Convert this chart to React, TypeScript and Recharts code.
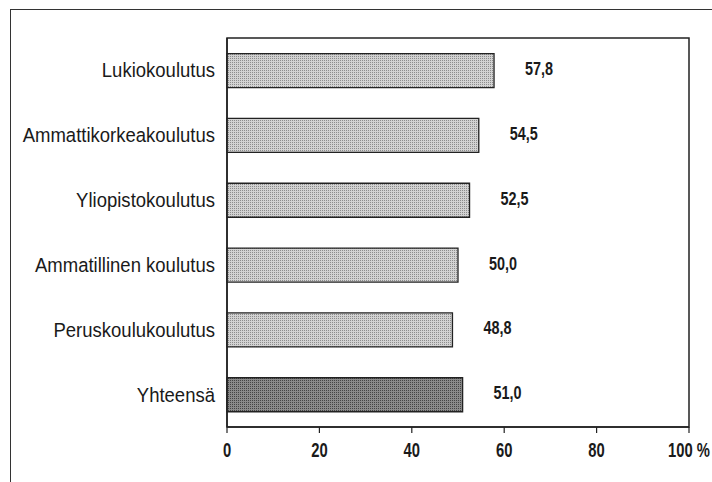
import React from "react";
import { BarChart, Bar, XAxis, YAxis, Cell, LabelList, ReferenceArea } from "recharts";

const categories = [
  "Lukiokoulutus",
  "Ammattikorkeakoulutus",
  "Yliopistokoulutus",
  "Ammatillinen koulutus",
  "Peruskoulukoulutus",
  "Yhteensä",
];
const values = [57.8, 54.5, 52.5, 50.0, 48.8, 51.0];
const xTicks = [0, 20, 40, 60, 80, 100];

const data = categories.map((name, i) => ({ name, value: values[i] }));

const FONT = "'Liberation Sans', Arial, sans-serif";

const YTick = (props: any) => {
  const { x, y, payload } = props;
  return (
    <text
      transform={`translate(${x},${y}) scale(0.95,1)`}
      textAnchor="end"
      dy="0.36em"
      fill="#1a1a1a"
      fontSize={19.5}
      fontFamily={FONT}
    >
      {payload.value}
    </text>
  );
};

const XTick = (props: any) => {
  const { x, y, payload } = props;
  const v = payload.value;
  return (
    <text
      transform={`translate(${x},${y}) scale(0.74,1)`}
      textAnchor="middle"
      dy="0.71em"
      fill="#1a1a1a"
      fontSize={20}
      fontWeight={700}
      fontFamily={FONT}
    >
      {v === 100 ? "100 %" : String(v)}
    </text>
  );
};

const ValueLabel = (props: any) => {
  const { x, y, width, height, value } = props;
  const lx = Number(x) + Number(width) + 31;
  const ly = Number(y) + Number(height) / 2 - 2;
  return (
    <text
      transform={`translate(${lx},${ly}) scale(0.8,1)`}
      textAnchor="start"
      dy="0.36em"
      fill="#1a1a1a"
      fontSize={18}
      fontWeight={700}
      fontFamily={FONT}
    >
      {Number(value).toFixed(1).replace(".", ",")}
    </text>
  );
};

export default function App() {
  return (
    <div style={{ position: "fixed", left: 0, top: 0, width: 712, height: 482, background: "#fff", overflow: "hidden" }}>
      <svg width="0" height="0" style={{ position: "absolute" }}>
        <defs>
          <pattern id="dotsLight" width="2" height="2" patternUnits="userSpaceOnUse">
            <rect width="2" height="2" fill="#d2d2d2" />
            <rect width="1" height="1" fill="#8c8c8c" />
          </pattern>
          <pattern id="dotsDark" width="2" height="2" patternUnits="userSpaceOnUse">
            <rect width="2" height="2" fill="#8a8a8a" />
            <rect width="1" height="1" fill="#444444" />
          </pattern>
        </defs>
      </svg>
      <div
        style={{
          position: "absolute",
          left: 10,
          top: 9,
          right: -8,
          bottom: -8,
          borderTop: "1.5px solid #333",
          borderLeft: "1.5px solid #333",
        }}
      />
      <BarChart
        width={712}
        height={482}
        data={data}
        layout="vertical"
        margin={{ top: 38, right: 23, bottom: 25, left: 0 }}
        barCategoryGap="24%"
        style={{ position: "absolute", left: 0, top: 0 }}
      >
        <XAxis
          type="number"
          domain={[0, 100]}
          ticks={xTicks}
          axisLine={{ stroke: "#222", strokeWidth: 1.5 }}
          tickLine={{ stroke: "#222", strokeWidth: 1.2 }}
          tickSize={6}
          tickMargin={10}
          height={30}
          tick={<XTick />}
          interval={0}
        />
        <YAxis
          type="category"
          dataKey="name"
          width={227}
          axisLine={{ stroke: "#222", strokeWidth: 1.5 }}
          tickLine={false}
          tickSize={0}
          tickMargin={12}
          tick={<YTick />}
          interval={0}
        />
        <ReferenceArea x1={0} x2={100} fill="none" stroke="#222" strokeWidth={1.5} ifOverflow="visible" />
        <Bar dataKey="value" stroke="#222" strokeWidth={1.3} isAnimationActive={false}>
          {data.map((d, i) => (
            <Cell key={d.name} fill={i === data.length - 1 ? "url(#dotsDark)" : "url(#dotsLight)"} />
          ))}
          <LabelList dataKey="value" content={<ValueLabel />} />
        </Bar>
      </BarChart>
    </div>
  );
}
